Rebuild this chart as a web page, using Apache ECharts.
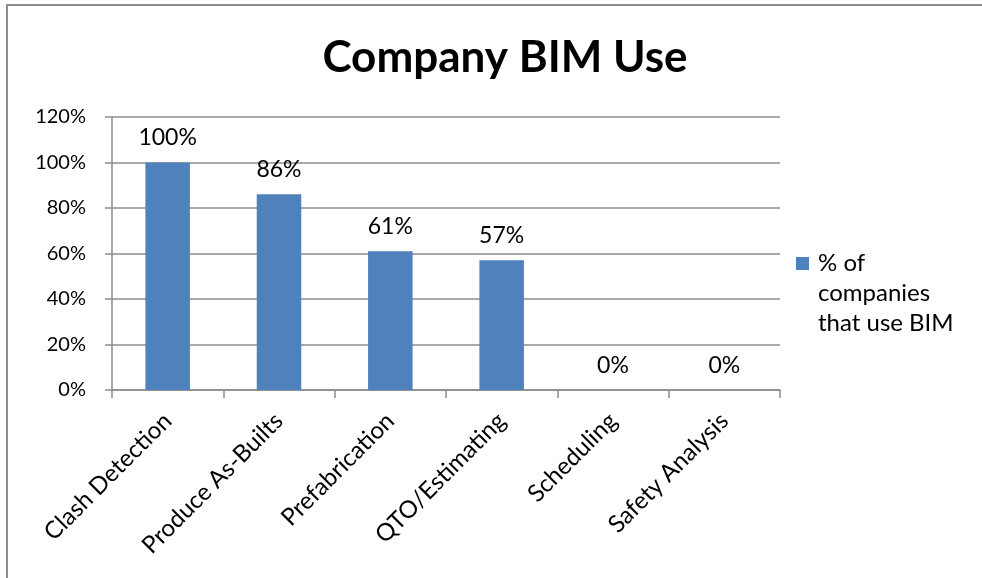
<!DOCTYPE html>
<html>
<head>
<meta charset="utf-8">
<script src="https://cdn.jsdelivr.net/npm/echarts@6/dist/echarts.min.js"></script>
<style>
  html, body { margin: 0; padding: 0; background: #fff; }
  #chart { width: 982px; height: 578px; }
</style>
</head>
<body>
<div id="chart"></div>
<script>
// Share of companies using BIM for each task (percent)
const categories = ['Clash Detection', 'Produce As-Builts', 'Prefabrication', 'QTO/Estimating', 'Scheduling', 'Safety Analysis'];
const usePercent = [100, 86, 61, 57, 0, 0];
const seriesName = '% of\ncompanies\nthat use BIM';
const yTicks = { min: 0, max: 120, interval: 20 };

const FONT = 'Lato, "Open Sans", sans-serif';
const GRID_COLOR = '#8c8c8c';

const chart = echarts.init(document.getElementById('chart'), null, { renderer: 'canvas' });

chart.setOption({
  animation: false,
  backgroundColor: '#ffffff',
  textStyle: { fontFamily: FONT },
  title: {
    text: 'Company BIM Use',
    left: 500,
    top: 31,
    textAlign: 'center',
    textStyle: { fontFamily: FONT, fontSize: 44, fontWeight: 'bold', color: '#000' }
  },
  graphic: [
    // chart frame: top and left edges
    { type: 'polyline', silent: true, shape: { points: [[7, 578], [7, 5], [982, 5]] },
      style: { stroke: '#8c8c8c', lineWidth: 2, fill: null } }
  ],
  legend: {
    left: 796,
    top: 248,
    padding: 0,
    itemWidth: 17,
    itemHeight: 72,
    // square marker sitting beside the first text line
    icon: 'path://M0,0H13V13H0Z M0,72H17',
    data: [seriesName],
    textStyle: { fontFamily: FONT, fontSize: 24, lineHeight: 30, color: '#000' }
  },
  grid: { left: 112, right: 202, top: 117, bottom: 188, containLabel: false },
  xAxis: {
    type: 'category',
    data: categories,
    axisLine: { lineStyle: { color: GRID_COLOR, width: 1.5 } },
    axisTick: { show: true, alignWithLabel: false, length: 8, lineStyle: { color: GRID_COLOR, width: 1.5 } },
    axisLabel: {
      interval: 0,
      rotate: 45,
      margin: 27,
      fontFamily: FONT,
      fontSize: 24,
      color: '#000'
    }
  },
  yAxis: {
    type: 'value',
    min: yTicks.min,
    max: yTicks.max,
    interval: yTicks.interval,
    axisLine: { show: true, lineStyle: { color: GRID_COLOR, width: 1.5 } },
    axisTick: { show: true, length: 7, lineStyle: { color: GRID_COLOR, width: 1.5 } },
    splitLine: { show: true, lineStyle: { color: GRID_COLOR, width: 1.5 } },
    axisLabel: {
      formatter: '{value}%',
      margin: 26,
      fontFamily: FONT,
      fontSize: 20,
      color: '#000'
    }
  },
  series: [{
    name: seriesName,
    type: 'bar',
    data: usePercent,
    barWidth: '40%',
    itemStyle: { color: '#4f81bd' },
    label: {
      show: true,
      position: 'top',
      distance: 13,
      formatter: p => p.value + '%',
      fontFamily: FONT,
      fontSize: 23,
      color: '#000'
    }
  }]
});
</script>
</body>
</html>
